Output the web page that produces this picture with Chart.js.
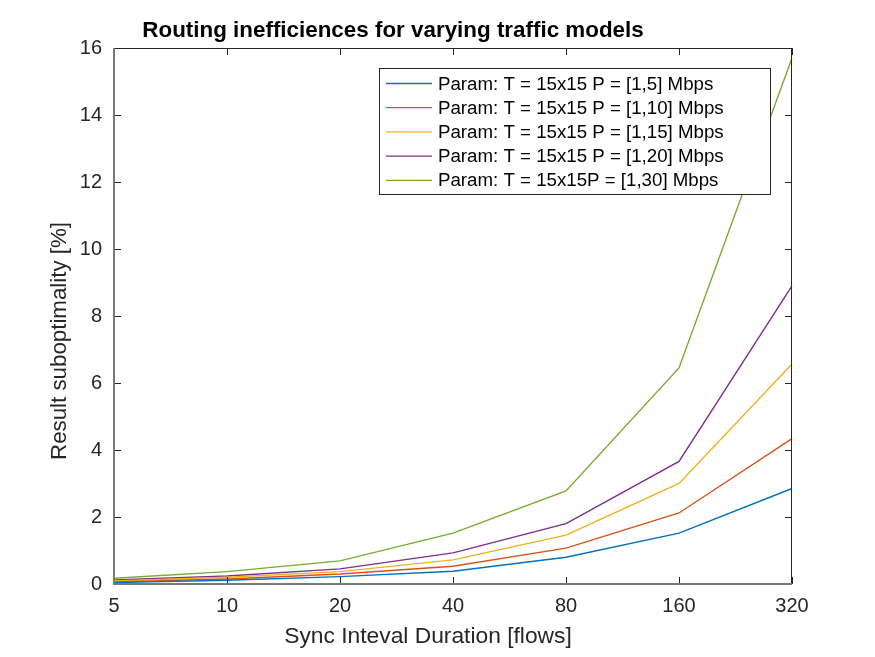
<!DOCTYPE html>
<html lang="en">
<head>
  <meta charset="UTF-8" />
  <title>Routing inefficiences</title>
  <script src="https://cdn.jsdelivr.net/npm/chart.js"></script>
  <style>
    body { margin: 0; background: #ffffff; }
    canvas { display: block; }
  </style>
</head>
<body>
  <canvas id="chart" width="875" height="657"></canvas>
  <script>
    // data
    const syncIntervals = ['5', '10', '20', '40', '80', '160', '320'];
    const yTicks = [0, 2, 4, 6, 8, 10, 12, 14, 16];
    const seriesNames = [
      'Param: T = 15x15 P = [1,5] Mbps',
      'Param: T = 15x15 P = [1,10] Mbps',
      'Param: T = 15x15 P = [1,15] Mbps',
      'Param: T = 15x15 P = [1,20] Mbps',
      'Param: T = 15x15P = [1,30] Mbps'
    ];
    const p5  = [0.04, 0.11, 0.22, 0.38, 0.80, 1.52, 2.85];
    const p10 = [0.06, 0.15, 0.30, 0.53, 1.07, 2.12, 4.34];
    const p15 = [0.09, 0.20, 0.37, 0.72, 1.46, 3.00, 6.57];
    const p20 = [0.12, 0.24, 0.45, 0.93, 1.80, 3.66, 8.90];
    const p30 = [0.17, 0.37, 0.69, 1.52, 2.78, 6.45, 15.70];

    const colors = ['#0072BD', '#D95319', '#EDB120', '#7E2F8E', '#77AC30'];
    const FONT = '"Liberation Sans", Arial, Helvetica, sans-serif';
    const INK = '#262626';

    const matlabAxes = {
      id: 'matlabAxes',
      afterDatasetsDraw(chart) {
        const ctx = chart.ctx;
        const a = chart.chartArea;
        const xs = chart.scales.x, ys = chart.scales.y;
        ctx.save();
        // top / right box edges
        ctx.strokeStyle = INK;
        ctx.lineWidth = 1;
        ctx.beginPath();
        ctx.moveTo(a.left, a.top + 0.5); ctx.lineTo(a.right, a.top + 0.5);
        ctx.moveTo(a.right - 0.5, a.top); ctx.lineTo(a.right - 0.5, a.bottom);
        ctx.stroke();
        // inward ticks
        ctx.beginPath();
        xs.ticks.forEach((t, i) => {
          const x = Math.round(xs.getPixelForTick(i)) + 0.5;
          ctx.moveTo(x, a.bottom); ctx.lineTo(x, a.bottom - 7);
          ctx.moveTo(x, a.top); ctx.lineTo(x, a.top + 7);
        });
        ys.ticks.forEach((t, i) => {
          const y = Math.round(ys.getPixelForTick(i)) + 0.5;
          ctx.moveTo(a.left, y); ctx.lineTo(a.left + 7, y);
          ctx.moveTo(a.right, y); ctx.lineTo(a.right - 7, y);
        });
        ctx.stroke();
        // left / bottom axis lines
        ctx.strokeStyle = '#7a7a7a';
        ctx.lineWidth = 2;
        ctx.beginPath();
        ctx.moveTo(a.left, a.top); ctx.lineTo(a.left, a.bottom);
        ctx.lineTo(a.right, a.bottom);
        ctx.stroke();
        ctx.restore();
      },
      afterDraw(chart) {
        const ctx = chart.ctx;
        ctx.save();
        ctx.fillStyle = '#000';
        // title
        ctx.font = 'bold 22.4px ' + FONT;
        ctx.textAlign = 'center';
        ctx.textBaseline = 'alphabetic';
        ctx.fillText('Routing inefficiences for varying traffic models', 393, 37);
        // axis titles
        ctx.fillStyle = INK;
        ctx.font = '22.8px ' + FONT;
        ctx.fillText('Sync Inteval Duration [flows]', 428, 643);
        ctx.font = '22.3px ' + FONT;
        ctx.translate(66, 341);
        ctx.rotate(-Math.PI / 2);
        ctx.fillText('Result suboptimality [%]', 0, 0);
        ctx.restore();

        // legend box
        const box = { left: 379, top: 68, width: 392, height: 127 };
        ctx.save();
        ctx.fillStyle = '#ffffff';
        ctx.fillRect(box.left, box.top, box.width, box.height);
        ctx.strokeStyle = INK;
        ctx.lineWidth = 1;
        ctx.strokeRect(box.left + 0.5, box.top + 0.5, box.width - 1, box.height - 1);
        ctx.font = '18.7px ' + FONT;
        ctx.textAlign = 'left';
        ctx.textBaseline = 'middle';
        chart.data.datasets.forEach((ds, i) => {
          const y = box.top + 15.5 + i * 24.2;
          ctx.strokeStyle = ds.borderColor;
          ctx.lineWidth = 1.3;
          ctx.beginPath();
          ctx.moveTo(box.left + 7, y); ctx.lineTo(box.left + 53, y);
          ctx.stroke();
          ctx.fillStyle = '#000';
          ctx.fillText(ds.label, box.left + 59, y + 1);
        });
        ctx.restore();
      }
    };

    const allSeries = [p5, p10, p15, p20, p30];

    new Chart(document.getElementById('chart').getContext('2d'), {
      type: 'line',
      data: {
        labels: syncIntervals,
        datasets: allSeries.map((vals, i) => ({
          label: seriesNames[i],
          data: vals,
          borderColor: colors[i],
          backgroundColor: colors[i],
          borderWidth: 1.4,
          pointRadius: 0,
          tension: 0,
          fill: false
        }))
      },
      options: {
        responsive: false,
        animation: false,
        layout: { padding: { top: 48, right: 83, left: 0, bottom: 0 } },
        plugins: {
          legend: { display: false },
          title: { display: false },
          tooltip: { enabled: false }
        },
        scales: {
          x: {
            type: 'category',
            offset: false,
            grid: { display: false, drawTicks: false },
            border: { display: false },
            ticks: { color: INK, font: { family: FONT, size: 20 }, padding: 10, maxRotation: 0, autoSkip: false },
            afterFit: s => { s.height = 73; }
          },
          y: {
            min: 0,
            max: 16,
            grid: { display: false, drawTicks: false },
            border: { display: false },
            afterBuildTicks: s => { s.ticks = yTicks.map(v => ({ value: v })); },
            ticks: { color: INK, font: { family: FONT, size: 20 }, padding: 12 },
            afterFit: s => { s.width = 114; }
          }
        }
      },
      plugins: [matlabAxes]
    });
  </script>
</body>
</html>
